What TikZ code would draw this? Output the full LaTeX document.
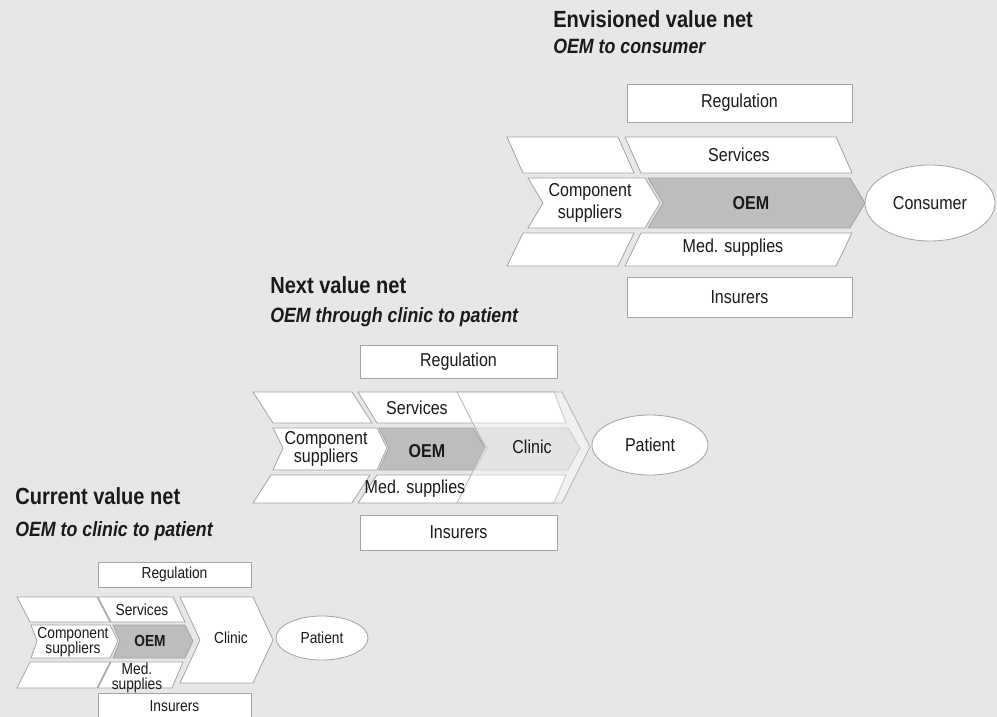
\documentclass[tikz,border=0pt]{standalone}
\usepackage{fontspec}
\setmainfont{Liberation Sans}[FakeStretch=0.86]
\usetikzlibrary{shapes.geometric, positioning}
\definecolor{grisfondo}{HTML}{E6E7E8}
\definecolor{grisborde}{HTML}{A3A3A3}
\definecolor{grisOEM}{HTML}{BDBDBD}
\definecolor{grisClinica}{HTML}{D3D3D3}
\definecolor{textoNegro}{HTML}{1A1A1A}
\tikzset{
  pieza/.style={draw=grisborde, line width=0.6pt, fill=white},
  piezaOEM/.style={pieza, fill=grisOEM},
  piezaClinica/.style={pieza, fill=grisClinica},
  velo/.style={draw=grisborde!80, line width=0.6pt, fill=white, fill opacity=0.4},
  texto/.style={font=\fontsize{14}{15}\selectfont, text=textoNegro, align=center, inner sep=0pt},
  textoNegrita/.style={texto, font=\fontsize{14}{15}\selectfont\bfseries},
  textoChico/.style={texto, font=\fontsize{12}{11.5}\selectfont},
  textoChicoNegrita/.style={texto, font=\fontsize{12}{11.5}\selectfont\bfseries},
  caja/.style={texto, draw=grisborde, line width=0.6pt, fill=white},
  elipse/.style={texto, ellipse, draw=grisborde, line width=0.6pt, fill=white},
  titulo/.style={font=\fontsize{17.5}{20}\selectfont\bfseries, text=textoNegro,
    anchor=base west, inner sep=0pt},
  subtitulo/.style={font=\fontsize{15.5}{18}\selectfont\bfseries\itshape, text=textoNegro,
    inner sep=0pt},
}

\begin{document}
\begin{tikzpicture}[x=0.75pt, y=-0.75pt]
  \path[use as bounding box, fill=grisfondo] (0,0) rectangle (997,717);
  \clip (0,0) rectangle (997,717);

  % Envisioned value net
  \node[titulo] (tituloE) at (553,28) {Envisioned value net};
  \node[subtitulo, below=19.5pt of tituloE.base west, anchor=base west] (subE) {OEM to consumer};
  \node[caja, minimum width=168.75pt, minimum height=28.5pt] (regE) at (739.5,103) {Regulation};
  \draw[pieza] (507,137) -- (618,137) -- (634,173) -- (523,173) -- cycle;
  \draw[pieza] (625,137) -- (836,137) -- (852,173) -- (641,173) -- cycle;
  \draw[pieza] (528,178) -- (645,178) -- (660,203) -- (645,228) -- (528,228) -- (543,203) -- cycle;
  \draw[piezaOEM] (648,178) -- (850,178) -- (865,203) -- (850,228) -- (648,228) -- (663,203) -- cycle;
  \draw[pieza] (523,233) -- (634,233) -- (618,266) -- (507,266) -- cycle;
  \draw[pieza] (641,233) -- (852,233) -- (836,266) -- (625,266) -- cycle;
  \node[caja, minimum width=168.75pt, minimum height=30pt] (asegE) at (739.5,297) {Insurers};
  \node[elipse, minimum width=97.5pt, minimum height=57pt] (consumidor) at (930,203) {Consumer};
  \node[texto] (servE) at (739,155) {Services};
  \node[texto, font=\fontsize{14}{16}\selectfont] (provE) at (590,203) {Component\\suppliers};
  \node[textoNegrita] (oemE) at (751,203) {OEM};
  \node[texto] (medE) at (733,248) {Med. supplies};

  % Next value net
  \node[titulo] (tituloN) at (270,293) {Next value net};
  \node[subtitulo, below=21.75pt of tituloN.base west, anchor=base west] (subN) {OEM through clinic to patient};
  \node[caja, minimum width=147.75pt, minimum height=24.75pt] (regN) at (458.5,361.5) {Regulation};
  \draw[pieza] (253,392) -- (352,392) -- (372,423) -- (273,423) -- cycle;
  \draw[pieza] (358,392) -- (554,392) -- (566,423) -- (377,423) -- cycle;
  \draw[pieza] (273,428) -- (377,428) -- (387,448) -- (377,470) -- (273,470) -- (283,448) -- cycle;
  \draw[piezaClinica] (475,428) -- (568,428) -- (580,448) -- (568,470) -- (475,470) -- (487,448) -- cycle;
  \draw[piezaOEM] (379,428) -- (473,428) -- (485,448) -- (473,470) -- (379,470) -- (389,448) -- cycle;
  \draw[pieza] (271,475) -- (370,475) -- (352,503) -- (253,503) -- cycle;
  \draw[pieza] (377,475) -- (566,475) -- (554,503) -- (358,503) -- cycle;
  \draw[velo] (457,392) -- (562,392) -- (590,447) -- (562,503) -- (457,503) -- (485,447) -- cycle;
  \node[caja, minimum width=147.75pt, minimum height=26.25pt] (asegN) at (458.5,532.5) {Insurers};
  \node[elipse, minimum width=87pt, minimum height=45pt] (pacienteN) at (650,445) {Patient};
  \node[texto] (servN) at (417,408) {Services};
  \node[texto, font=\fontsize{14}{13.5}\selectfont] (provN) at (326,449) {Component\\suppliers};
  \node[textoNegrita] (oemN) at (427,451) {OEM};
  \node[texto] (clinN) at (532,447) {Clinic};
  \node[texto] (medN) at (415,489) {Med. supplies};

  % Current value net
  \node[titulo] (tituloC) at (15,504) {Current value net};
  \node[subtitulo, below=24pt of tituloC.base west, anchor=base west] (subC) {OEM to clinic to patient};
  \node[caja, textoChico, minimum width=114.75pt, minimum height=18.75pt] (regC) at (174.5,574.5) {Regulation};
  \draw[pieza] (17,597) -- (97,597) -- (110,622) -- (30,622) -- cycle;
  \draw[pieza] (98,597) -- (173,597) -- (185,622) -- (111,622) -- cycle;
  \draw[pieza] (180,597) -- (253,597) -- (273,640) -- (253,683) -- (180,683) -- (200,640) -- cycle;
  \draw[pieza] (31,625) -- (110,625) -- (118,641) -- (110,658) -- (31,658) -- (37,641) -- cycle;
  \draw[piezaOEM] (113,625) -- (185,625) -- (193,641) -- (185,658) -- (113,658) -- (120,641) -- cycle;
  \draw[pieza] (30,662) -- (110,662) -- (97,688) -- (17,688) -- cycle;
  \draw[pieza] (111,662) -- (183,662) -- (172,688) -- (98,688) -- cycle;
  \node[caja, textoChico, minimum width=114.75pt, minimum height=20.25pt] (asegC) at (174.5,706.5) {Insurers};
  \node[elipse, textoChico, minimum width=69pt, minimum height=33pt] (pacienteC) at (322,638) {Patient};
  \node[textoChico] (servC) at (142,610) {Services};
  \node[textoChico] (provC) at (73,642) {Component\\suppliers};
  \node[textoChicoNegrita] (oemC) at (150,641) {OEM};
  \node[textoChico] (clinC) at (231,638) {Clinic};
  \node[textoChico] (medC) at (137,678) {Med.\\supplies};
\end{tikzpicture}
\end{document}
